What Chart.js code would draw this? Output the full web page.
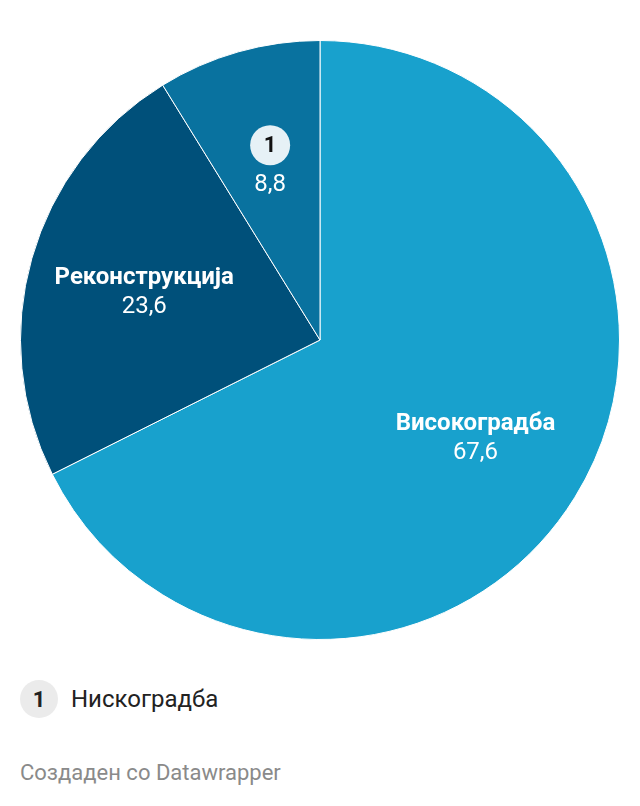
<!DOCTYPE html>
<html>
<head>
<meta charset="utf-8">
<script src="https://cdn.jsdelivr.net/npm/chart.js@4"></script>
<style>
html,body{margin:0;padding:0;background:#fff;font-family:Roboto,"Noto Sans",sans-serif;}
#wrap{position:absolute;left:0;top:0;width:640px;height:680px;}
#legend{position:absolute;left:20px;top:680px;height:38px;display:flex;align-items:center;font-size:24px;color:#222;}
#legend .b{width:38px;height:38px;border-radius:50%;background:#ebebeb;display:flex;align-items:center;justify-content:center;font-weight:700;font-size:22px;color:#222;margin-right:13px;}
#footer{position:absolute;left:20px;top:760px;font-size:22px;color:#8a8a8a;line-height:26px;}
</style>
</head>
<body>
<div id="wrap"><canvas id="c"></canvas></div>
<div id="legend"><div class="b">1</div><span>Нискоградба</span></div>
<div id="footer">Создаден со Datawrapper</div>
<script>
const categories = ["Високоградба", "Реконструкција", "Нискоградба"];
const values = [67.6, 23.6, 8.8];
const valueLabels = ["67,6", "23,6", "8,8"];
const badgeLabels = [null, null, "1"];
const colors = ["#18a1cd", "#00507a", "#09729f"];

const labelPlugin = {
  id: "sliceLabels",
  afterDatasetsDraw(chart) {
    const ctx = chart.ctx;
    const meta = chart.getDatasetMeta(0);
    meta.data.forEach((arc, i) => {
      const p = arc.getProps(["x","y","startAngle","endAngle","outerRadius"], true);
      const mid = (p.startAngle + p.endAngle) / 2;
      const r = p.outerRadius * 0.61;
      const cx = p.x + Math.cos(mid) * r;
      const cy = p.y + Math.sin(mid) * r + 2;
      ctx.save();
      ctx.textAlign = "center";
      ctx.textBaseline = "middle";
      if (badgeLabels[i]) {
        ctx.fillStyle = "#e6f1f6";
        ctx.beginPath();
        ctx.arc(cx, cy - 21, 20, 0, Math.PI * 2);
        ctx.fill();
        ctx.fillStyle = "#111";
        ctx.font = "700 22px Roboto";
        ctx.fillText(badgeLabels[i], cx, cy - 20);
        ctx.fillStyle = "#fff";
        ctx.font = "400 24px Roboto";
        ctx.fillText(valueLabels[i], cx, cy + 19);
      } else {
        ctx.fillStyle = "#fff";
        ctx.font = "700 24px Roboto";
        ctx.fillText(categories[i], cx, cy - 14);
        ctx.font = "400 24px Roboto";
        ctx.fillText(valueLabels[i], cx, cy + 15);
      }
      ctx.restore();
    });
  }
};

new Chart(document.getElementById("c"), {
  type: "pie",
  data: {
    labels: categories,
    datasets: [{
      data: values,
      backgroundColor: colors,
      borderColor: "#ffffff",
      borderWidth: 1
    }]
  },
  options: {
    responsive: true,
    maintainAspectRatio: false,
    animation: false,
    layout: { padding: { top: 40, bottom: 40, left: 20, right: 20 } },
    plugins: { legend: { display: false }, tooltip: { enabled: false } }
  },
  plugins: [labelPlugin]
});
</script>
</body>
</html>
